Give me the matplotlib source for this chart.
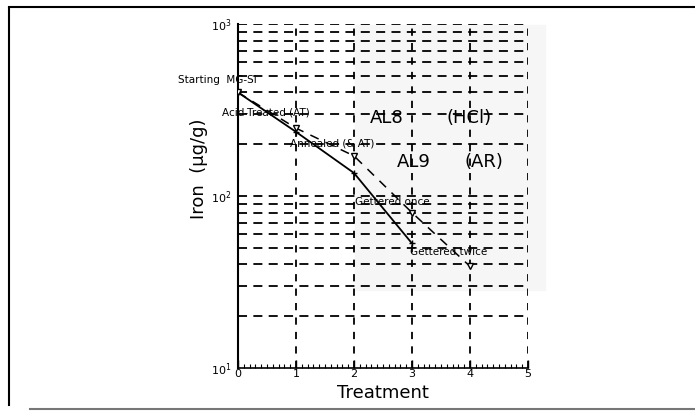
import numpy as np
import matplotlib
matplotlib.use('Agg')
import matplotlib.pyplot as plt
from matplotlib.lines import Line2D
from matplotlib.patches import Rectangle

# treatment steps and iron content (ug/g)
treat_al8 = [0, 1, 2, 3]
iron_al8 = [400, 236, 136, 53]
treat_al9 = [0, 1, 2, 3, 4]
iron_al9 = [400, 248, 171, 80, 39]

x_ticks = [0, 1, 2, 3, 4, 5]
y_ticks = [10, 100, 1000]
y_tick_labels = ['$10^{1}$', '$10^{2}$', '$10^{3}$']

fig = plt.figure(figsize=(6.95, 4.12), dpi=100)

# frame of the scanned page
fig.lines.append(Line2D([9/695, 9/695], [1-8/412, 1-405/412], transform=fig.transFigure, color='k', lw=1.5))
fig.lines.append(Line2D([9/695, 1.0], [1-7/412, 1-7/412], transform=fig.transFigure, color='k', lw=1.5))
fig.lines.append(Line2D([30/695, 1.0], [1-409/412, 1-409/412], transform=fig.transFigure, color='#777777', lw=1.5))

ax = fig.add_axes([238/695, 1-368/412, 290/695, 344/412])
ax.patch.set_alpha(0)
ax.set_yscale('log')
ax.set_xlim(0, 5)
ax.set_ylim(10, 1000)

# faint scan shading
shade = Rectangle((355/695, 1-290/412), 190/695, 265/412, transform=fig.transFigure,
                  color='#f6f6f6', zorder=0, clip_on=False)
ax.add_patch(shade)

# dashed grid on every log decade step and every treatment
dash = (0, (5, 3.5))
for dec in [10, 100]:
    for m in range(1, 10):
        yv = dec*m
        if yv > 10:
            ax.axhline(yv, color='k', lw=1.3, ls=dash, zorder=1)
ax.axhline(1000, color='k', lw=1.3, ls=dash, zorder=1)
for xv in x_ticks[1:]:
    ax.axvline(xv, color='k', lw=1.3, ls=(0, (4, 4)), zorder=1)

ax.plot(treat_al8, iron_al8, color='k', lw=1.3, marker='+', ms=5, zorder=3)
ax.plot(treat_al9, iron_al9, color='k', lw=1.1, ls=(0, (6, 5)), marker='v', ms=5,
        mfc='white', mec='k', zorder=3)

for s in ['top', 'right']:
    ax.spines[s].set_visible(False)
ax.spines['left'].set_linewidth(1.5)
ax.spines['bottom'].set_linewidth(1.2)

ax.set_xticks(x_ticks)
ax.set_xticklabels([str(v) for v in x_ticks], fontsize=8)
ax.set_xticks(np.arange(0, 5.01, 0.1), minor=True)
ax.tick_params(axis='x', which='major', direction='in', length=6, width=1, pad=1)
ax.tick_params(axis='x', which='minor', direction='in', length=3, width=0.8)
ax.set_yticks(y_ticks)
ax.set_yticklabels(y_tick_labels, fontsize=8)
ax.yaxis.set_minor_locator(matplotlib.ticker.NullLocator())
ax.tick_params(axis='y', which='major', length=0, pad=5)

ax.set_xlabel('Treatment', fontsize=13, labelpad=3)
ax.set_ylabel('Iron  (\u00b5g/g)', fontsize=13)
ax.yaxis.set_label_coords(-0.105, 0.58)

# labels of each step
small = dict(fontsize=7.5, ha='left', va='center', zorder=4, fontweight='medium')
ax.text(-1.03, 472, 'Starting  MG-Si', clip_on=False, **small)
ax.text(-0.28, 304, 'Acid-Treated (AT)', clip_on=False, **small)
ax.text(0.90, 203, 'Annealed (& AT)', **small)
ax.text(2.02, 92, 'Gettered once', **small)
ax.text(2.97, 47, 'Gettered twice', **small)

big = dict(fontsize=13, ha='left', va='center', zorder=4)
ax.text(2.28, 284, 'AL8', **big)
ax.text(3.60, 284, '(HCl)', **big)
ax.text(2.74, 158, 'AL9', **big)
ax.text(3.91, 158, '(AR)', **big)

plt.savefig('out.png', dpi=100)
plt.close()
